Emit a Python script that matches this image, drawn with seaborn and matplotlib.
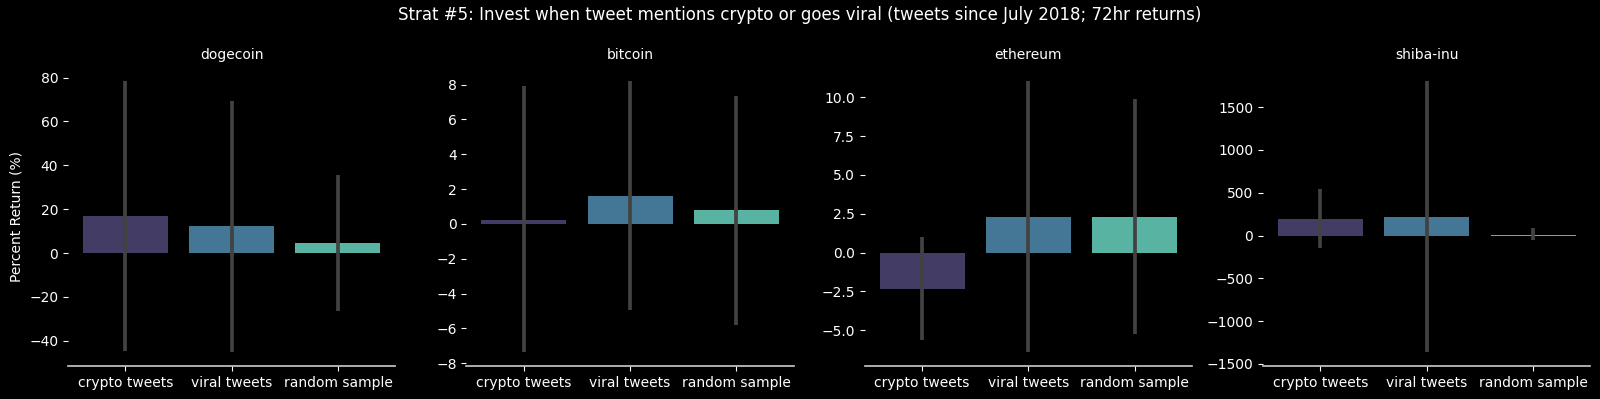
import matplotlib.pyplot as plt
import pandas as pd
import seaborn as sns

coins = ["dogecoin", "bitcoin", "ethereum", "shiba-inu"]
groups = ["crypto tweets", "viral tweets", "random sample"]

# mean 72hr return per group
mean_return = {
    "dogecoin": [16.8, 12.3, 4.4],
    "bitcoin": [0.25, 1.62, 0.78],
    "ethereum": [-2.34, 2.28, 2.27],
    "shiba-inu": [198, 217, 10],
}
err_low = {
    "dogecoin": [-44.7, -45.2, -26.5],
    "bitcoin": [-7.37, -4.93, -5.78],
    "ethereum": [-5.61, -6.42, -5.23],
    "shiba-inu": [-145, -1364, -55],
}
err_high = {
    "dogecoin": [78.6, 69.5, 35.5],
    "bitcoin": [7.9, 8.23, 7.33],
    "ethereum": [1.0, 11.07, 9.89],
    "shiba-inu": [540, 1810, 93],
}

plt.style.use("dark_background")
plt.rcParams["font.family"] = ["DejaVu Sans"]
plt.rcParams["font.size"] = 10

palette = sns.color_palette("mako", 3)

fig, axes = plt.subplots(1, 4, figsize=(16, 3.99), dpi=100)
fig.subplots_adjust(left=0.0425, right=0.994, bottom=0.083, top=0.832, wspace=0.217)

for ax, coin in zip(axes, coins):
    df = pd.DataFrame({"group": groups, "ret": mean_return[coin]})
    sns.barplot(data=df, x="group", y="ret", hue="group", palette=palette,
                legend=False, errorbar=None, ax=ax)
    ax.vlines(range(len(groups)), err_low[coin], err_high[coin],
              color=".26", linewidth=2.7, zorder=3)
    ax.set_title(coin, fontsize=10, color="white")
    ax.set_xlabel("")
    ax.set_ylabel("")
    ax.tick_params(colors="white", labelsize=10)
    ax.spines["bottom"].set_color("#cccccc")
    ax.spines["bottom"].set_linewidth(1.2)
    sns.despine(ax=ax, left=True)

axes[0].set_ylabel("Percent Return (%)", fontsize=10)
fig.suptitle("Strat #5: Invest when tweet mentions crypto or goes viral "
             "(tweets since July 2018; 72hr returns)", fontsize=12, y=0.985)

fig.savefig("out.png", dpi=100, facecolor="black")
